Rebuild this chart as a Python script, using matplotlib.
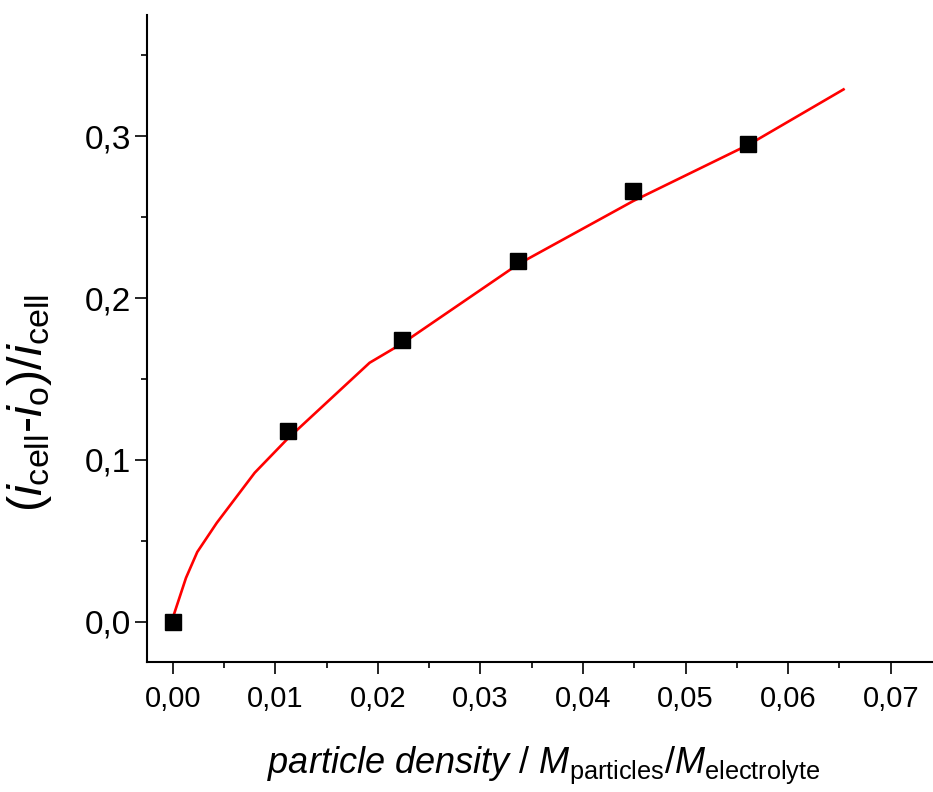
import numpy as np
import matplotlib
matplotlib.use("Agg")
import matplotlib.pyplot as plt
from matplotlib.ticker import MultipleLocator, FuncFormatter

plt.rcParams['font.family'] = ['Liberation Sans', 'DejaVu Sans']
plt.rcParams['mathtext.fontset'] = 'custom'
plt.rcParams['mathtext.rm'] = 'Liberation Sans'
plt.rcParams['mathtext.it'] = 'Liberation Sans:italic'

# measured points
density = [0.0, 0.0112, 0.0224, 0.0337, 0.0449, 0.0561]
current_ratio = [0.0, 0.118, 0.174, 0.223, 0.266, 0.295]

# fitted curve as drawn
fit_x = [0.0, 0.0013, 0.0024, 0.0043, 0.0080, 0.0112, 0.0192, 0.0224,
         0.0337, 0.0449, 0.0562, 0.0654]
fit_y = [0.002, 0.027, 0.043, 0.061, 0.092, 0.113, 0.160, 0.172,
         0.221, 0.260, 0.295, 0.329]

W, H = 933, 792
fig = plt.figure(figsize=(W / 100, H / 100), dpi=100)
ax = fig.add_axes([147 / W, 1 - 662 / H, 795 / W, 647 / H])

ax.plot(fit_x, fit_y, color='red', lw=1.9, zorder=2, clip_on=False)
ax.plot(density, current_ratio, ls='none', marker='s', ms=12,
        color='black', zorder=3, clip_on=False)

ax.set_xlim(-0.0025, 0.075)
ax.set_ylim(-0.025, 0.375)

ax.spines['top'].set_visible(False)
ax.spines['right'].set_visible(False)
for s in ('left', 'bottom'):
    ax.spines[s].set_linewidth(1.5)

ax.xaxis.set_major_locator(MultipleLocator(0.01))
ax.xaxis.set_minor_locator(MultipleLocator(0.005))
ax.yaxis.set_major_locator(MultipleLocator(0.1))
ax.yaxis.set_minor_locator(MultipleLocator(0.05))
ax.set_xticks(np.arange(0, 0.0701, 0.01))
ax.xaxis.set_major_formatter(FuncFormatter(lambda v, p: f"{v:.2f}".replace('.', ',')))
ax.yaxis.set_major_formatter(FuncFormatter(lambda v, p: f"{v:.1f}".replace('.', ',')))

ax.tick_params(which='major', direction='out', length=8.5, width=1.2)
ax.tick_params(which='minor', direction='out', length=4.5, width=1.2)
ax.tick_params(axis='x', pad=8, labelsize=21)
ax.tick_params(axis='y', pad=3, labelsize=24)

fig.text(544 / W, 1 - 765 / H,
         r'$\mathit{particle\ density\ /\ M}_{\mathrm{particles}}\mathit{/M}_{\mathrm{electrolyte}}$',
         fontsize=26, ha='center', va='center')
fig.text(30 / W, 1 - 403 / H,
         r'$\mathrm{(}\mathit{i}_{\mathrm{cell}}\text{-}\mathit{i}_{\mathrm{o}}\mathrm{)/}\mathit{i}_{\mathrm{cell}}$',
         fontsize=35, ha='center', va='center', rotation=90)

fig.savefig('out.png', dpi=100)
